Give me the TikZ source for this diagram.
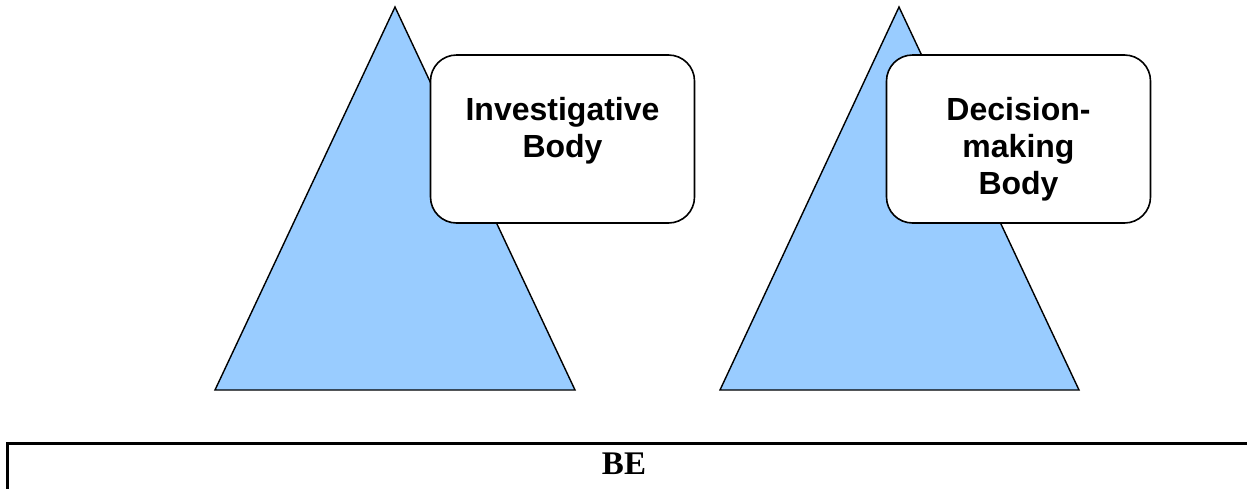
\documentclass[tikz,border=0pt]{standalone}
\usepackage{fontspec}
\setmainfont{Liberation Serif}
\setsansfont{Liberation Sans}
\usepackage{xcolor}
\usetikzlibrary{positioning}
\definecolor{pyramidblue}{HTML}{99CCFF}
\tikzset{
  pyramid/.style ={draw=black, fill=pyramidblue, line width=1.4pt, line join=miter},
  bodybox/.style ={draw=black, fill=white, line width=1.6pt, rounded corners=26pt,
                   minimum width=264pt, minimum height=168pt, inner sep=0pt},
  bodytext/.style={align=center, inner sep=0pt,
                   font=\sffamily\bfseries\fontsize{32}{37}\selectfont},
  barline/.style ={draw=black, line width=3pt},
  bartext/.style ={inner sep=0pt, font=\rmfamily\bfseries\fontsize{33}{38}\selectfont},
}
\begin{document}
\begin{tikzpicture}[x=1pt, y=-1pt]
\useasboundingbox (0,0) rectangle (1247,488);
% pyramids
\draw[pyramid] (395,7) -- (575,390) -- (215,390) -- cycle;
\draw[pyramid] (899,7) -- (1079,390) -- (720,390) -- cycle;
% the two bodies
\node[bodybox] (inv) at (562.5,139) {};
\node[bodytext, anchor=north, below=43pt of inv.north] (invtext) {Investigative\\Body};
\node[bodybox] (dec) at (1018.5,139) {};
\node[bodytext, anchor=north, below=43pt of dec.north] (dectext) {Decision-\\making\\Body};
% bottom bar
\begin{scope}
\clip (0,0) rectangle (1247,488);
\draw[barline] (7,520) -- (7,443) coordinate (barcorner) -- (1270,443);
\end{scope}
\node[bartext, anchor=base] (be) at (624,474) {BE};
\end{tikzpicture}
\end{document}
